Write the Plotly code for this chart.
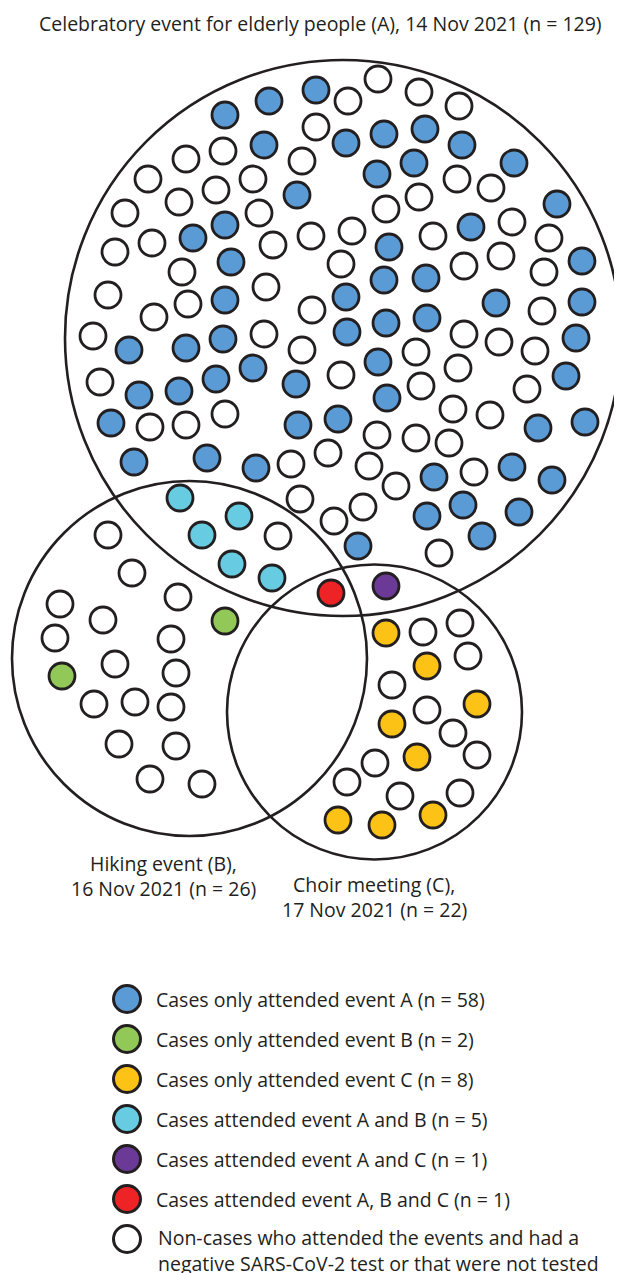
import plotly.graph_objects as go

# ---------------- data ----------------
# Event circles (centre x, centre y, radius) in picture units
event_names = ["A", "B", "C"]
event_cx = [343, 189.5, 374.5]
event_cy = [338, 658.5, 712]
event_r = [278, 177.5, 147.5]

# Cases only attended event A
blue_x = [225, 269, 316, 264, 297, 225, 193, 231, 225, 346, 384, 425, 462, 377, 414, 514,
          557, 471, 389, 582, 384, 426, 346, 496, 582, 129, 186, 223, 347, 139, 179, 216,
          253, 296, 111, 298, 338, 134, 207, 256, 386, 427, 576, 378, 387, 566, 538, 585,
          434, 512, 552, 427, 463, 519, 482, 358]
blue_y = [115, 101, 90, 145, 195, 225, 238, 262, 300, 143, 134, 129, 145, 174, 163, 163,
          204, 227, 247, 261, 280, 278, 297, 303, 302, 350, 348, 339, 332, 395, 391, 379,
          368, 384, 423, 425, 419, 462, 458, 468, 323, 318, 338, 362, 398, 376, 428, 422,
          477, 467, 480, 516, 505, 512, 536, 546]

# Cases only attended event B
green_x = [225, 62]
green_y = [621, 676]

# Cases only attended event C
yellow_x = [386, 427, 477, 392, 417, 338, 382, 433]
yellow_y = [633, 666, 704, 724, 757, 820, 825, 815]

# Cases attended A and B
cyan_x = [180, 239, 202, 232, 272]
cyan_y = [498, 516, 535, 564, 578]

# Cases attended A and C
purple_x = [386]
purple_y = [586]

# Cases attended A, B and C
red_x = [331]
red_y = [593]

# Non-cases
white_x = [348, 378, 419, 459, 316, 223, 186, 302, 148, 253, 216, 179, 125, 259, 152, 273,
           311, 115, 182, 341, 266, 108, 188, 312, 457, 491, 386, 419, 352, 433, 512, 549,
           464, 501, 544, 542, 154,
           93, 264, 302, 100, 341, 150, 186, 225, 291, 328, 300, 334,
           464, 499, 535, 416, 458, 421, 527, 453, 490, 377, 416, 449, 369, 474, 396, 363, 439,
           278,
           108, 132, 178, 60, 103, 55, 171, 115, 176, 94, 135, 171, 119, 176, 150, 202,
           423, 460, 468, 392, 427, 453, 477, 375, 347, 400, 460]
white_y = [101, 79, 92, 106, 127, 151, 159, 161, 179, 179, 190, 202, 213, 213, 243, 245,
           236, 252, 272, 264, 287, 295, 304, 310, 179, 188, 209, 197, 231, 236, 222, 238,
           266, 256, 272, 311, 317,
           336, 334, 350, 382, 375, 427, 425, 414, 464, 453, 499, 521,
           334, 342, 351, 352, 368, 386, 389, 409, 415, 435, 438, 443, 466, 472, 486, 507, 553,
           536,
           535, 573, 597, 604, 620, 638, 639, 664, 673, 704, 702, 707, 744, 746, 779, 784,
           632, 623, 656, 685, 710, 733, 755, 763, 782, 796, 793]

legend_labels = [
    "Cases only attended event A (n = 58)",
    "Cases only attended event B (n = 2)",
    "Cases only attended event C (n = 8)",
    "Cases attended event A and B (n = 5)",
    "Cases attended event A and C (n = 1)",
    "Cases attended event A, B and C (n = 1)",
    "Non-cases who attended the events and had a<br>negative SARS-CoV-2 test or that were not tested",
]

title_text = "Celebratory event for elderly people (A), 14 Nov 2021 (n = 129)"
label_B = "Hiking event (B),<br>16 Nov 2021 (n = 26)"
label_C = "Choir meeting (C),<br>17 Nov 2021 (n = 22)"

# ---------------- styles ----------------
INK = "#231f20"
colors = ["#5b9bd5", "#92c857", "#fcc216", "#67cce2", "#6b3a96", "#ee2326", "#ffffff"]
FONT = "Open Sans"
FS = 19.5
W, H = 622, 1273
OFF = 8  # page body margin compensation

fig = go.Figure()

groups = [(blue_x, blue_y), (green_x, green_y), (yellow_x, yellow_y), (cyan_x, cyan_y),
          (purple_x, purple_y), (red_x, red_y), (white_x, white_y)]
order = [6, 0, 1, 2, 3, 4, 5]
for i in order:
    gx, gy = groups[i]
    fig.add_trace(go.Scatter(
        x=gx, y=gy, mode="markers", showlegend=False, hoverinfo="skip",
        marker=dict(size=26, color=colors[i], line=dict(color=INK, width=2.8)),
    ))

# event circles
for cx, cy, r in zip(event_cx, event_cy, event_r):
    fig.add_shape(type="circle", xref="x", yref="y",
                  x0=cx - r, x1=cx + r, y0=cy - r, y1=cy + r,
                  line=dict(color=INK, width=2.6), layer="below")

# legend (drawn manually to match large symbols)
leg_x0 = 127
leg_y0 = 999
leg_dy = 40
leg_y = [leg_y0 + k * leg_dy for k in range(len(legend_labels))]
fig.add_trace(go.Scatter(
    x=[leg_x0] * len(leg_y), y=leg_y, mode="markers", showlegend=False, hoverinfo="skip",
    marker=dict(size=27, color=colors, line=dict(color=INK, width=3)),
))

annotations = []
for k, lab in enumerate(legend_labels):
    lines = lab.split("<br>")
    if len(lines) == 1:
        annotations.append(dict(x=154, y=leg_y[k], text=lab, xanchor="left", yanchor="middle"))
    else:
        annotations.append(dict(x=156, y=leg_y[k] - 2, text=lines[0], xanchor="left", yanchor="middle"))
        annotations.append(dict(x=156, y=leg_y[k] + 24, text=lines[1], xanchor="left", yanchor="middle"))

annotations.append(dict(x=320, y=23, text=title_text, xanchor="center", yanchor="middle"))
lb = label_B.split("<br>")
annotations.append(dict(x=163, y=863, text=lb[0], xanchor="center", yanchor="middle"))
annotations.append(dict(x=163, y=888, text=lb[1], xanchor="center", yanchor="middle"))
lc = label_C.split("<br>")
annotations.append(dict(x=374, y=884, text=lc[0], xanchor="center", yanchor="middle"))
annotations.append(dict(x=374, y=909, text=lc[1], xanchor="center", yanchor="middle"))

for a in annotations:
    a.update(xref="x", yref="y", showarrow=False, font=dict(family=FONT, size=FS, color=INK))

fig.update_layout(
    width=W, height=H,
    margin=dict(l=0, r=0, t=0, b=0),
    paper_bgcolor="white", plot_bgcolor="white",
    xaxis=dict(range=[OFF, W + OFF], visible=False, fixedrange=True),
    yaxis=dict(range=[H + OFF, OFF], visible=False, fixedrange=True),
    annotations=annotations,
)

fig.write_html("out.html")
